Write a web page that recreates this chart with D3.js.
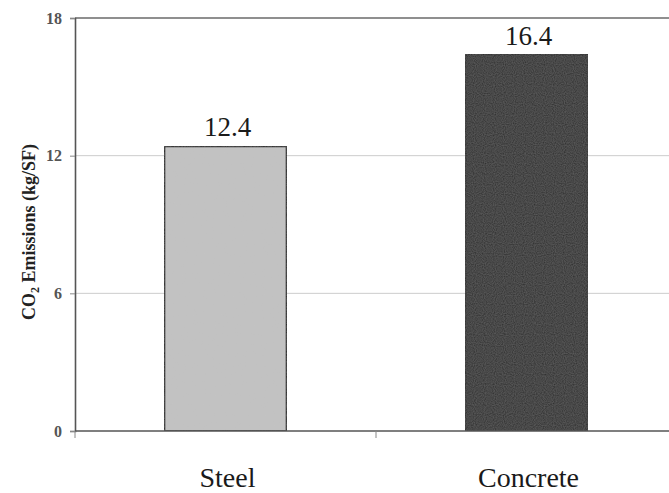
<!DOCTYPE html>
<html>
<head>
<meta charset="utf-8">
<script src="https://cdn.jsdelivr.net/npm/d3@7"></script>
<style>
  html, body { margin: 0; padding: 0; background: #fff; }
  svg { display: block; }
  svg text { font-family: "Liberation Serif", "Times New Roman", serif; }
</style>
</head>
<body>
<svg id="chart" width="669" height="493"></svg>
<script>
// Emissions per square foot for the two structural systems
const categories = ["Steel", "Concrete"];
const emissions = [12.4, 16.4];
const yTicks = [0, 6, 12, 18];
const barFills = ["#c3c3c3", "#262626"];

const svg = d3.select("#chart");
const margin = { left: 75, top: 18, bottom: 431, right: 677 };

const x = d3.scaleBand()
  .domain(categories)
  .range([margin.left, margin.right]);

const y = d3.scaleLinear()
  .domain([0, 18])
  .range([margin.bottom, margin.top]);

// grainy print texture for the bars
const defs = svg.append("defs");
const f = defs.append("filter").attr("id", "grain")
  .attr("x", 0).attr("y", 0).attr("width", 1).attr("height", 1);
f.append("feTurbulence").attr("type", "fractalNoise")
  .attr("baseFrequency", 0.9).attr("numOctaves", 1).attr("seed", 3).attr("result", "noise");
f.append("feColorMatrix").attr("in", "noise").attr("type", "matrix")
  .attr("values", "0 0 0 0 0.5  0 0 0 0 0.5  0 0 0 0 0.5  0 0 0 0.2 0").attr("result", "grey");
f.append("feComposite").attr("in", "grey").attr("in2", "SourceGraphic").attr("operator", "in").attr("result", "g2");
f.append("feMerge").selectAll("feMergeNode").data(["SourceGraphic", "g2"]).join("feMergeNode").attr("in", d => d);

// horizontal gridlines
svg.append("g")
  .selectAll("line")
  .data(yTicks.filter(d => d > 0))
  .join("line")
  .attr("x1", margin.left).attr("x2", 669)
  .attr("y1", d => y(d)).attr("y2", d => y(d))
  .attr("stroke", d => d === 18 ? "#6a6a6a" : "#cccccc")
  .attr("stroke-width", d => d === 18 ? 1.6 : 1);

// y axis
const yAxis = svg.append("g")
  .attr("transform", `translate(${margin.left},0)`)
  .call(d3.axisLeft(y).tickValues(yTicks).tickSize(5).tickPadding(8).tickFormat(d3.format("d")));
yAxis.select(".domain").attr("stroke", "#555").attr("stroke-width", 1.6);
yAxis.selectAll(".tick line").attr("stroke", "#888");
yAxis.selectAll(".tick text")
  .style("font-family", "'Liberation Serif', 'Times New Roman', serif")
  .attr("font-size", 16)
  .attr("font-weight", "bold")
  .attr("fill", "#555");

// bars
const barW = x.bandwidth() * 0.405;
svg.append("g")
  .selectAll("rect")
  .data(categories)
  .join("rect")
  .attr("x", d => x(d) + (x.bandwidth() - barW) / 2)
  .attr("y", (d, i) => y(emissions[i]))
  .attr("width", barW)
  .attr("height", (d, i) => y(0) - y(emissions[i]))
  .attr("fill", (d, i) => barFills[i])
  .attr("filter", "url(#grain)")
  .attr("stroke", "#1a1a1a")
  .attr("stroke-width", 1.5);

// x axis
const xAxis = svg.append("g")
  .attr("transform", `translate(0,${margin.bottom})`);
xAxis.append("line")
  .attr("x1", margin.left).attr("x2", 669)
  .attr("y1", 0).attr("y2", 0)
  .attr("stroke", "#555").attr("stroke-width", 1.6);
xAxis.selectAll("line.tick")
  .data(categories.map(c => x(c)).concat([x.range()[1]]))
  .join("line")
  .attr("class", "tick")
  .attr("x1", d => d).attr("x2", d => d)
  .attr("y1", 0).attr("y2", 7)
  .attr("stroke", "#888");
xAxis.selectAll("text")
  .data(categories)
  .join("text")
  .attr("x", d => x(d) + x.bandwidth() / 2 + 2)
  .attr("y", 56)
  .attr("text-anchor", "middle")
  .style("font-family", "'Liberation Serif', 'Times New Roman', serif")
  .attr("font-size", 28)
  .attr("fill", "#1a1a1a")
  .text(d => d);

// value labels
svg.append("g")
  .selectAll("text")
  .data(categories)
  .join("text")
  .attr("x", d => x(d) + x.bandwidth() / 2 + 2)
  .attr("y", (d, i) => y(emissions[i]) - 10)
  .attr("text-anchor", "middle")
  .style("font-family", "'Liberation Serif', 'Times New Roman', serif")
  .attr("font-size", 27)
  .attr("fill", "#1a1a1a")
  .text((d, i) => emissions[i].toFixed(1));

// y axis title
const title = svg.append("text")
  .attr("transform", "translate(35,232) rotate(-90)")
  .attr("text-anchor", "middle")
  .style("font-family", "'Liberation Serif', 'Times New Roman', serif")
  .attr("font-size", 18)
  .attr("font-weight", "bold")
  .attr("fill", "#222");
title.append("tspan").text("CO");
title.append("tspan").attr("font-size", 12).attr("dy", 4).text("2");
title.append("tspan").attr("dy", -4).text(" Emissions (kg/SF)");
</script>
</body>
</html>
